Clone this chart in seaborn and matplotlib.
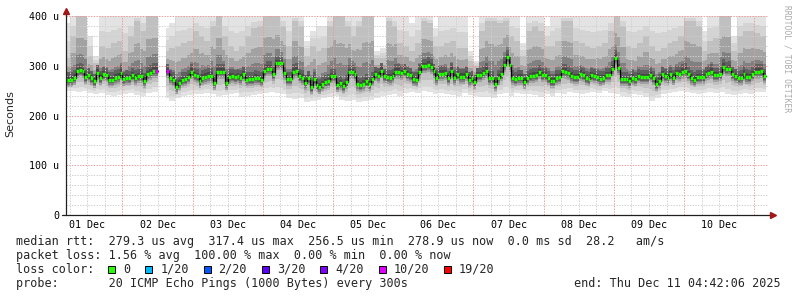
import numpy as np
import pandas as pd
import matplotlib
matplotlib.use("Agg")
import matplotlib.pyplot as plt
from matplotlib.patches import Rectangle
import seaborn as sns

sns.set_style("white")
plt.rcParams["font.family"] = ["DejaVu Sans Mono", "DejaVu Sans"]

# ---------------- data ----------------
# hourly median RTT in microseconds, first step starts Dec 1 04:00
median_us = [
    272, 272, 272, 276, 289, 291, 289, 277, 281, 275,
    269, 286, 275, 283, 281, 272, 272, 276, 278, 286,
    273, 276, 275, 281, 276, 279, 279, 270, 283, 286,
    290, 290, np.nan, np.nan, np.nan, 289, 276, 272, 258, 265,
    272, 273, 277, 288, 281, 279, 269, 276, 278, 280,
    280, 266, 288, 288, 288, 266, 278, 279, 277, 279,
    276, 283, 272, 273, 273, 276, 275, 272, 289, 294,
    294, 283, 305, 305, 305, 285, 273, 273, 288, 290,
    279, 276, 266, 275, 256.5, 273, 261, 258, 263, 267,
    269, 279, 279, 261, 265, 259, 267, 287, 287, 283,
    264, 261, 264, 269, 263, 273, 283, 280, 290, 279,
    277, 276, 279, 288, 288, 285, 289, 283, 281, 273,
    272, 288, 299, 299, 302, 298, 289, 276, 284, 284,
    285, 275, 290, 276, 283, 278, 278, 283, 272, 275,
    267, 281, 281, 285, 290, 275, 275, 263, 276, 283,
    302, 317.4, 302, 276, 273, 276, 276, 268, 275, 279,
    280, 281, 287, 281, 281, 275, 269, 269, 276, 277,
    289, 288, 285, 280, 277, 277, 284, 281, 275, 273,
    281, 279, 277, 274, 275, 281, 281, 294, 316, 296,
    273, 273, 273, 269, 276, 273, 279, 277, 277, 277,
    281, 275, 263, 269, 283, 279, 276, 283, 276, 285,
    284, 288, 290, 283, 276, 272, 277, 277, 277, 283,
    285, 288, 281, 281, 283, 298, 293, 294, 283, 279,
    275, 276, 284, 278, 277, 283, 288, 288, 289, 278.9,
]

# 2-hourly smoke extents (us): bottom, top of the denser band, top
smoke_lo = [
    250, 250, 248, 250, 246, 244, 246, 242, 240, 242,
    244, 246, 242, 240, 246, 248, np.nan, 236, 230, 236,
    240, 242, 244, 244, 246, 244, 240, 242, 244, 246,
    238, 240, 242, 244, 246, 248, 246, 244, 236, 234,
    236, 228, 230, 232, 236, 238, 240, 232, 230, 232,
    228, 230, 232, 236, 240, 242, 244, 240, 246, 248,
    246, 250, 248, 244, 246, 244, 242, 240, 246, 242,
    240, 238, 238, 236, 244, 246, 240, 246, 244, 244,
    242, 238, 244, 240, 246, 244, 248, 246, 244, 246,
    248, 246, 250, 246, 244, 240, 238, 244, 242, 238,
    230, 236, 244, 246, 248, 250, 248, 246, 244, 246,
    248, 246, 248, 244, 242, 244, 246, 244, 248, 248,
]
smoke_up = [
    315, 360, 400, 400, 320, 305, 340, 335, 345, 350,
    330, 360, 390, 370, 400, 400, np.nan, 330, 335, 340,
    345, 350, 370, 360, 350, 380, 400, 360, 340, 330,
    340, 360, 375, 380, 400, 400, 400, 380, 340, 390,
    380, 320, 340, 330, 335, 380, 400, 400, 380, 360,
    380, 400, 400, 315, 315, 390, 380, 345, 340, 330,
    345, 390, 385, 340, 340, 345, 350, 335, 335, 310,
    300, 370, 390, 390, 385, 390, 360, 350, 320, 370,
    380, 370, 340, 340, 350, 390, 390, 350, 345, 340,
    335, 340, 345, 370, 400, 380, 340, 335, 345, 360,
    340, 330, 335, 345, 350, 360, 390, 390, 380, 330,
    350, 355, 400, 400, 330, 360, 370, 370, 365, 360,
]
smoke_hi = [
    385, 400, 400, 400, 360, 320, 400, 400, 400, 400,
    400, 400, 400, 400, 400, 400, np.nan, 375, 385, 400,
    400, 400, 400, 400, 400, 400, 400, 400, 400, 400,
    400, 400, 400, 400, 400, 400, 400, 400, 400, 400,
    400, 350, 370, 380, 380, 400, 400, 400, 400, 400,
    400, 400, 400, 330, 335, 400, 400, 400, 400, 385,
    400, 400, 400, 375, 400, 400, 400, 400, 400, 330,
    310, 400, 400, 400, 400, 400, 400, 400, 345, 400,
    400, 400, 380, 400, 400, 400, 400, 400, 400, 400,
    400, 400, 400, 400, 400, 400, 400, 400, 400, 400,
    400, 400, 400, 400, 400, 400, 400, 400, 400, 370,
    400, 400, 400, 400, 360, 400, 400, 400, 400, 400,
]
loss_hours = [31, 35]          # hours with partial loss
loss_of_20 = [10, 10]          # pings lost out of 20

day_labels = ["01 Dec", "02 Dec", "03 Dec", "04 Dec", "05 Dec",
              "06 Dec", "07 Dec", "08 Dec", "09 Dec", "10 Dec"]
y_values = [0, 100, 200, 300, 400]
y_labels = ["0", "100 u", "200 u", "300 u", "400 u"]
legend_labels = ["0", "1/20", "2/20", "3/20", "4/20", "10/20", "19/20"]
legend_thresholds = [0, 1, 2, 3, 4, 10, 19]
legend_colors = ["#26ff00", "#00b8ff", "#0059ff", "#5e00ff",
                 "#7e00ff", "#dd00ff", "#ff0000"]

line_rtt = ("median rtt:  279.3 us avg  317.4 us max  256.5 us min  "
            "278.9 us now  0.0 ms sd  28.2   am/s")
line_loss = "packet loss: 1.56 % avg  100.00 % max  0.00 % min  0.00 % now"
line_probe = "probe:       20 ICMP Echo Pings (1000 Bytes) every 300s"
line_end = "end: Thu Dec 11 04:42:06 2025"

# ---------------- figure ----------------
W, H = 797, 297
fig = plt.figure(figsize=(W / 100, H / 100), dpi=100)
ax = fig.add_axes([66 / W, 82 / H, 702 / W, 199 / H])

med = np.array(median_us, float)
n = len(med)
edges = 4.0 + np.arange(n + 1)
xx = np.column_stack([edges[:-1], edges[1:]]).ravel()
valid = ~np.isnan(med)

def hourly(a):
    a = np.repeat(np.array(a, float), 2)[:n]
    a[~valid] = np.nan
    return a

L, U, Hh = hourly(smoke_lo), hourly(smoke_up), hourly(smoke_hi)
M = med

bands = [
    (L, Hh, "#e3e3e3"),
    (L + 0.2 * (M - L), U + 0.5 * (Hh - U), "#d4d4d4"),
    (L + 0.45 * (M - L), U, "#c0c0c0"),
    (M - 14, U - 0.4 * (U - M), "#a2a2a2"),
    (M - 10, M + 0.3 * (U - M), "#808080"),
    (M - 7, M + 15, "#606060"),
    (M - 4, M + 7, "#474747"),
]
for lo_b, hi_b, c in bands:
    ax.fill_between(xx, np.repeat(lo_b, 2), np.repeat(hi_b, 2),
                    color=c, lw=0, zorder=1)

# grid (drawn over the smoke, like rrdtool)
x0, x1 = 4.7, 244.7
dots = (0, (1.4, 1.4))
minor_c = "#cfcfcf"
major_c = (0.93, 0.6, 0.6)
for y in range(20, 401, 20):
    ax.axhline(y, color=major_c if y % 100 == 0 else minor_c,
               lw=0.7, ls=dots, zorder=3)
for x in range(6, 245, 6):
    if x < x0:
        continue
    ax.axvline(x, color=major_c if x % 24 == 0 else minor_c,
               lw=0.7, ls=dots, zorder=3)

# median: thin black stair line + loss coloured steps
rows, seg, prev = [], 0, False
for k in range(n):
    if not valid[k]:
        prev = False
        continue
    if not prev:
        seg += 1
    rows.append((edges[k], med[k], seg))
    rows.append((edges[k + 1], med[k], seg))
    prev = True
df = pd.DataFrame(rows, columns=["t", "v", "seg"])
sns.lineplot(data=df, x="t", y="v", units="seg", estimator=None, sort=False,
             color="black", lw=0.9, legend=False, ax=ax, zorder=4)

loss = np.zeros(n)
loss[loss_hours] = loss_of_20
cols = []
for k in range(n):
    idx = max(i for i, th in enumerate(legend_thresholds) if loss[k] >= th)
    cols.append(legend_colors[idx])
cols = np.array(cols)
ax.hlines(med[valid], edges[:-1][valid], edges[1:][valid],
          colors=cols[valid], lw=2.4, zorder=5)

ax.set_xlim(x0, x1)
ax.set_ylim(0, 400)
for s in ax.spines.values():
    s.set_visible(False)
ax.set_xlabel("")
ax.set_ylabel("")
ax.set_xticks([12 + 24 * i for i in range(len(day_labels))])
ax.set_xticklabels(day_labels)
ax.set_yticks(y_values)
ax.set_yticklabels(y_labels)
ax.tick_params(axis="both", length=0, labelsize=7.2, colors="black")
ax.tick_params(axis="x", pad=3.5)
ax.tick_params(axis="y", pad=5)

# axes lines and arrows
ax.plot([0, 0], [0, 1.02], transform=ax.transAxes, clip_on=False,
        color="#202020", lw=0.9, zorder=6)
ax.plot([-4 / 702, 1.004], [0, 0], transform=ax.transAxes, clip_on=False,
        color="#202020", lw=0.9, zorder=6)
ax.plot([0], [1.025], marker="^", ms=4.5, color="#a01818",
        transform=ax.transAxes, clip_on=False, zorder=7)
ax.plot([1.0065], [0], marker=">", ms=4.5, color="#a01818",
        transform=ax.transAxes, clip_on=False, zorder=7)

# labels
fig.text(10 / W, 1 - 114 / H, "Seconds", rotation=90, ha="center",
         va="center", fontsize=8, family="DejaVu Sans")
fig.text(787 / W, 1 - 5 / H, "RRDTOOL / TOBI OETIKER", rotation=270,
         ha="center", va="top", fontsize=5.8, color="#aaaaaa")

fs = 8.5
cw = 0.6021 * fs * 100 / 72   # monospace advance in px
lx = 16
fig.text(lx / W, 1 - 245 / H, line_rtt, fontsize=fs, va="baseline")
fig.text(lx / W, 1 - 259 / H, line_loss, fontsize=fs, va="baseline")
fig.text(lx / W, 1 - 273 / H, "loss color:", fontsize=fs, va="baseline")
pos = 13.0
for lab, col in zip(legend_labels, legend_colors):
    px = lx + pos * cw
    fig.add_artist(Rectangle((px / W, 1 - 273.3 / H), 7 / W, 7 / H,
                             facecolor=col, edgecolor="black", lw=0.7,
                             transform=fig.transFigure))
    fig.text((px + 2.1 * cw) / W, 1 - 273 / H, lab, fontsize=fs,
             va="baseline")
    pos += len(lab) + 4.2
fig.text(lx / W, 1 - 287 / H, line_probe, fontsize=fs, va="baseline")
fig.text(781 / W, 1 - 287 / H, line_end, fontsize=fs, va="baseline",
         ha="right")

fig.savefig("out.png", dpi=100)
